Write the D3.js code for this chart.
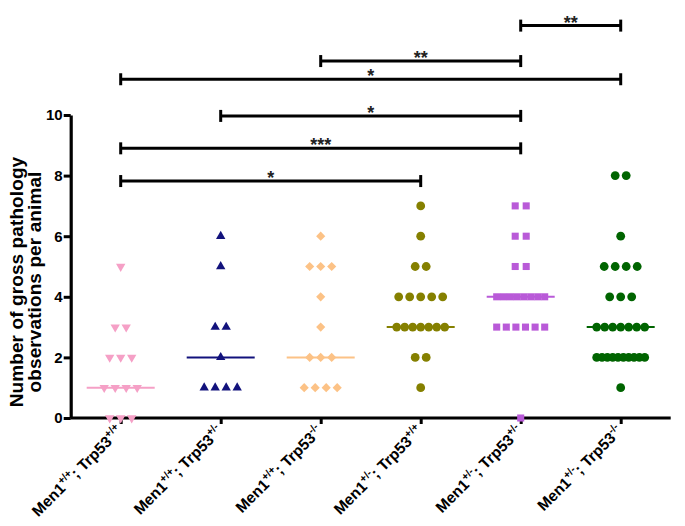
<!DOCTYPE html>
<html>
<head>
<meta charset="utf-8">
<script src="https://cdn.jsdelivr.net/npm/d3@7"></script>
<style>
  html, body { margin: 0; padding: 0; background: #fff; }
  svg { display: block; font-family: "Liberation Sans", Arial, Helvetica, sans-serif; font-weight: bold; }
</style>
</head>
<body>
<svg id="chart" width="685" height="526"></svg>
<script>
// ---------- data ----------
const men1Sup  = ["+/+", "+/+", "+/+", "+/-", "+/-", "+/-"];
const trp53Sup = ["+/+", "+/-", "-/-", "+/+", "+/-", "-/-"];

const g1 = [5, 3, 3, 2, 2, 2, 1, 1, 1, 1, 0, 0, 0];
const g2 = [6, 5, 3, 3, 2, 1, 1, 1, 1];
const g3 = [6, 5, 5, 5, 4, 3, 2, 2, 2, 1, 1, 1, 1];
const g4 = [7, 6, 5, 5, 4, 4, 4, 4, 4, 3, 3, 3, 3, 3, 3, 3, 2, 2, 1];
const g5 = [7, 7, 6, 6, 5, 5, 4, 4, 4, 4, 4, 4, 4, 4, 3, 3, 3, 3, 3, 3, 0];
const g6 = [8, 8, 6, 5, 5, 5, 5, 4, 4, 4, 3, 3, 3, 3, 3, 3, 3, 2, 2, 2, 2, 2, 2, 2, 2, 2, 2, 1];
const groups = [g1, g2, g3, g4, g5, g6];

const yTicks = [0, 2, 4, 6, 8, 10];

// significance comparisons
const sigFrom   = [4, 2, 0, 1, 0, 0];
const sigTo     = [5, 4, 5, 4, 4, 3];
const sigLabels = ["**", "**", "*", "*", "***", "*"];
const sigLevels = [12.95, 11.78, 11.18, 9.97, 8.9, 7.82];

// ---------- styles ----------
const colors  = ["#f5a0c6", "#12127c", "#fcc286", "#858000", "#b95ad8", "#006400"];
const shapes  = ["triDown", "triUp", "diamond", "circle", "square", "circle"];

const svg = d3.select("#chart");
const x = d3.scalePoint().domain(d3.range(6)).range([70.7, 670.7]).padding(0.5);
const y = d3.scaleLinear().domain([0, 10]).range([418, 115]);

// ---------- sig bars ----------
const sig = svg.append("g");
sigFrom.forEach((f, i) => {
  const x1 = x(f), x2 = x(sigTo[i]), yy = y(sigLevels[i]);
  sig.append("line").attr("x1", x1).attr("x2", x2).attr("y1", yy).attr("y2", yy)
    .attr("stroke", "#000").attr("stroke-width", 3);
  [x1, x2].forEach(xx => sig.append("line").attr("x1", xx).attr("x2", xx)
    .attr("y1", yy - 6).attr("y2", yy + 6).attr("stroke", "#000").attr("stroke-width", 3));
  sig.append("text").attr("x", (x1 + x2) / 2).attr("y", yy + 3)
    .attr("text-anchor", "middle").attr("font-size", 18).attr("font-weight", "bold")
    .attr("fill", "#222").text(sigLabels[i]);
});

// ---------- axes ----------
const yAxis = svg.append("g").attr("transform", "translate(70.7,0)")
  .call(d3.axisLeft(y).tickValues(yTicks).tickSize(7).tickSizeOuter(0).tickPadding(1));
yAxis.select(".domain").attr("stroke-width", 3.2);
yAxis.selectAll(".tick line").attr("stroke-width", 3);
yAxis.selectAll(".tick text").attr("font-size", 15).attr("font-weight", "bold")
  .attr("font-family", "Liberation Sans, Arial, sans-serif").attr("fill", "#000");

const xAxis = svg.append("g").attr("transform", "translate(0,418)")
  .call(d3.axisBottom(x).tickSize(6).tickSizeOuter(0).tickFormat(""));
xAxis.select(".domain").attr("stroke-width", 3.2).attr("d", "M70.7,0H670.7");
xAxis.selectAll(".tick line").attr("stroke-width", 3);

// x labels
const xl = svg.append("g");
d3.range(6).forEach(i => {
  const t = xl.append("text")
    .attr("transform", `translate(${x(i) + 3},${432}) rotate(-45)`)
    .attr("text-anchor", "end").attr("font-size", 15.5).attr("fill", "#000");
  t.append("tspan").text("Men1");
  t.append("tspan").attr("dy", -6.5).attr("font-size", 10.5).text(men1Sup[i]);
  t.append("tspan").attr("dy", 6.5).text("; Trp53");
  t.append("tspan").attr("dy", -6.5).attr("font-size", 10.5).text(trp53Sup[i]);
});

// y label
const yl = svg.append("text").attr("transform", "translate(0,282) rotate(-90)")
  .attr("text-anchor", "middle").attr("font-size", 19).attr("letter-spacing", 0.1)
  .attr("fill", "#000");
yl.append("tspan").attr("x", 0).attr("y", 23).text("Number of gross pathology");
yl.append("tspan").attr("x", 0).attr("y", 40.5).text("observations per animal");

// ---------- medians & points ----------
const plot = svg.append("g");
groups.forEach((vals, gi) => {
  const cx = x(gi);
  const med = d3.median(vals);
  plot.append("line").attr("x1", cx - 34).attr("x2", cx + 34)
    .attr("y1", y(med)).attr("y2", y(med))
    .attr("stroke", colors[gi]).attr("stroke-width", 2);

  const counts = d3.rollup(vals, v => v.length, d => d);
  counts.forEach((n, v) => {
    const span = Math.min((n - 1) * 11, 48);
    const step = n > 1 ? span / (n - 1) : 0;
    for (let k = 0; k < n; k++) {
      const px = cx - span / 2 + k * step, py = y(v);
      const s = shapes[gi];
      if (s === "circle") {
        plot.append("circle").attr("cx", px).attr("cy", py).attr("r", 4.4).attr("fill", colors[gi]);
      } else if (s === "triUp" || s === "triDown") {
        plot.append("path").attr("d", d3.symbol(d3.symbolTriangle, 38)())
          .attr("transform", `translate(${px},${py}) rotate(${s === "triDown" ? 180 : 0})`)
          .attr("fill", colors[gi]);
      } else if (s === "diamond") {
        plot.append("path").attr("d", d3.symbol(d3.symbolSquare, 42)())
          .attr("transform", `translate(${px},${py}) rotate(45)`).attr("fill", colors[gi]);
      } else {
        plot.append("path").attr("d", d3.symbol(d3.symbolSquare, 50)())
          .attr("transform", `translate(${px},${py})`).attr("fill", colors[gi]);
      }
    }
  });
});
</script>
</body>
</html>
